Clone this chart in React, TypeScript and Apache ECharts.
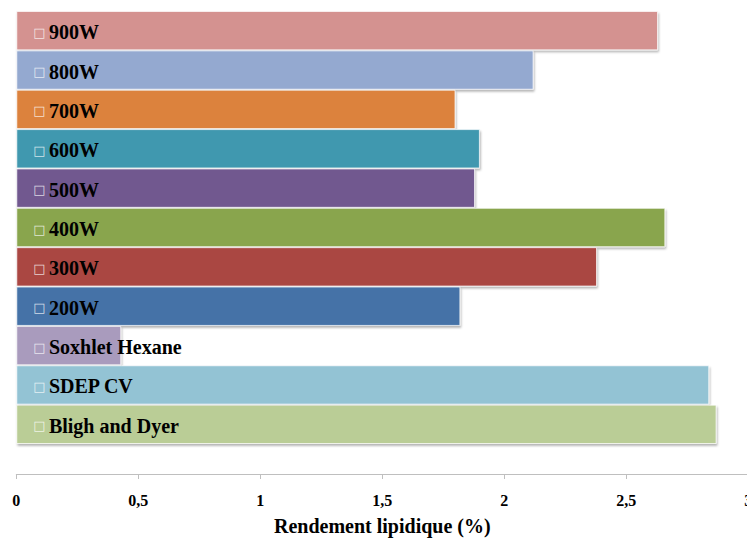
import React, { useEffect, useRef } from "react";
import * as echarts from "echarts";

const categories = [
  "900W",
  "800W",
  "700W",
  "600W",
  "500W",
  "400W",
  "300W",
  "200W",
  "Soxhlet Hexane",
  "SDEP CV",
  "Bligh and Dyer",
];
const values = [2.63, 2.12, 1.8, 1.9, 1.88, 2.66, 2.38, 1.82, 0.43, 2.84, 2.87];
const colors = [
  "#D49290",
  "#94A9D0",
  "#DC823D",
  "#4198AF",
  "#71588F",
  "#89A54E",
  "#AA4643",
  "#4572A7",
  "#A99BBD",
  "#93C3D4",
  "#BACD96",
];
const xTicks = ["0", "0,5", "1", "1,5", "2", "2,5", "3"];

export default function App() {
  const ref = useRef<HTMLDivElement>(null);
  useEffect(() => {
    if (!ref.current) return;
    const chart = echarts.init(ref.current, null, { renderer: "svg" });
    const font = "'Liberation Serif', 'Times New Roman', serif";
    chart.setOption({
      animation: false,
      grid: {
        left: 16.3,
        top: 11,
        width: 732,
        height: 433,
        containLabel: false,
        outerBoundsMode: "none",
      },
      xAxis: {
        type: "value",
        min: 0,
        max: 3,
        interval: 0.5,
        offset: 30,
        name: "Rendement lipidique (%)",
        nameLocation: "middle",
        nameGap: 42,
        nameTextStyle: { fontFamily: font, fontWeight: "bold", fontSize: 20, color: "#000" },
        axisLine: { show: true, lineStyle: { color: "#BFBFBF", width: 1 } },
        axisTick: { show: true, length: 5, lineStyle: { color: "#BFBFBF" } },
        splitLine: { show: false },
        axisLabel: {
          margin: 18,
          fontFamily: font,
          fontWeight: "bold",
          fontSize: 16,
          color: "#000",
          formatter: (v: number) => xTicks[Math.round(v * 2)] ?? String(v),
        },
      },
      yAxis: {
        type: "category",
        inverse: true,
        data: categories,
        axisLine: { show: false },
        axisTick: { show: false },
        axisLabel: { show: false },
        splitLine: { show: false },
      },
      series: [
        {
          type: "bar",
          barCategoryGap: 0,
          data: values.map((v, i) => ({
            value: v,
            itemStyle: { color: colors[i] },
          })),
          itemStyle: {
            borderColor: "rgba(255,255,255,0.7)",
            borderWidth: 1,
            shadowBlur: 2,
            shadowOffsetX: 1,
            shadowOffsetY: 2,
            shadowColor: "rgba(0,0,0,0.3)",
          },
          label: {
            show: true,
            position: "insideLeft",
            distance: 17,
            offset: [0, 1.5],
            formatter: (p: any) => "{b|□} {t|" + categories[p.dataIndex] + "}",
            rich: {
              b: { fontFamily: "DejaVu Sans", fontSize: 13, color: "rgba(255,255,255,0.75)" },
              t: { fontFamily: font, fontWeight: "bold", fontSize: 20, color: "#000" },
            },
          },
        },
      ],
    });
    return () => chart.dispose();
  }, []);
  return (
    <div
      ref={ref}
      style={{ position: "absolute", left: 0, top: 0, width: 747, height: 543, background: "#fff" }}
    />
  );
}
